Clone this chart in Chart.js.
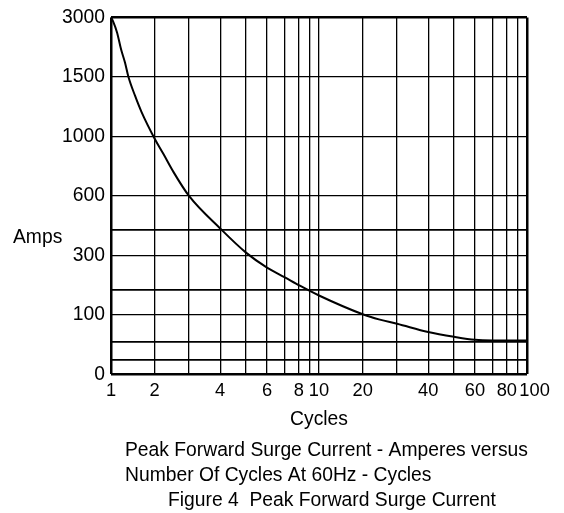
<!DOCTYPE html>
<html>
<head>
<meta charset="utf-8">
<script src="https://cdn.jsdelivr.net/npm/chart.js@4/dist/chart.umd.min.js"></script>
<style>
  html, body { margin: 0; padding: 0; background: #fff; }
  #wrap { width: 564px; height: 513px; position: relative; }
  canvas { display: block; }
</style>
</head>
<body>
<div id="wrap"><canvas id="chart" width="564" height="513"></canvas></div>
<script>
// ---- data ----
const cycles = [1, 1.05, 1.14, 1.23, 1.32, 1.4, 1.55, 1.7, 2, 2.26, 2.54, 3, 4, 5, 6, 7, 8.1, 10, 20, 25, 30, 40, 50, 60, 70, 80, 100];
const amps   = [3000, 2900, 2618, 2199, 1867, 1500, 1343, 1205, 985, 880, 764, 600, 436, 314, 259, 226, 198, 165, 102, 92, 85, 71, 63, 58, 57, 57, 57];

const xGridValues = [1, 2, 3, 4, 5, 6, 7, 8, 9, 10, 20, 30, 40, 50, 60, 70, 80, 90, 100];
const xTickLabels = [1, 2, 4, 6, 8, 10, 20, 40, 60, 80, 100];
const yGridValues = [0, 25, 54, 100, 185, 300, 430, 600, 1000, 1500, 3000];
const yTickLabels = [0, 100, 300, 600, 1000, 1500, 3000];

const xTitle = 'Cycles';
const yTitle = 'Amps';
const captionLines = ['Peak Forward Surge Current - Amperes versus', 'Number Of Cycles At 60Hz - Cycles'];
const figureCaption = 'Figure 4  Peak Forward Surge Current';

// ---- axis geometry of the printed graph paper (not data) ----
const decadeFrac = [0, 0.21, 0.375, 0.525, 0.649, 0.75, 0.836, 0.903, 0.953, 1];
const xKnotPos = xGridValues.map((v, i) => i < 10 ? decadeFrac[i] : 1 + decadeFrac[i - 9]);
const yKnotPos = yTickLabels.map((v, i) => i);

function toPos(v, knots, pos) {
  if (v <= knots[0]) return pos[0];
  for (let i = 1; i < knots.length; i++) {
    if (v <= knots[i]) {
      const t = (v - knots[i - 1]) / (knots[i] - knots[i - 1]);
      return pos[i - 1] + t * (pos[i] - pos[i - 1]);
    }
  }
  return pos[pos.length - 1];
}
function fromPos(p, knots, pos) {
  if (p <= pos[0]) return knots[0];
  for (let i = 1; i < pos.length; i++) {
    if (p <= pos[i]) {
      const t = (p - pos[i - 1]) / (pos[i] - pos[i - 1]);
      return knots[i - 1] + t * (knots[i] - knots[i - 1]);
    }
  }
  return knots[knots.length - 1];
}

// Custom scale reproducing the hand-ruled graph paper
class WarpScale extends Chart.Scale {
  determineDataLimits() {
    const k = this.options.knots;
    this.min = k[0];
    this.max = k[k.length - 1];
  }
  buildTicks() {
    return this.options.gridValues.map(v => ({ value: v }));
  }
  getLabelForValue(v) { return String(v); }
  _toDecimal(v) {
    const k = this.options.knots, p = this.options.knotPos;
    return (toPos(v, k, p) - p[0]) / (p[p.length - 1] - p[0]);
  }
  getPixelForValue(v) {
    return this.getPixelForDecimal(this._toDecimal(v));
  }
  getValueForPixel(px) {
    const k = this.options.knots, p = this.options.knotPos;
    const d = this.getDecimalForPixel(px);
    return fromPos(p[0] + d * (p[p.length - 1] - p[0]), k, p);
  }
}
WarpScale.id = 'warp';
WarpScale.defaults = {};
Chart.register(WarpScale);

Chart.defaults.font.family = '"Liberation Sans", Arial, Helvetica, sans-serif';
Chart.defaults.color = '#000';

const FONT = '"Liberation Sans", Arial, Helvetica, sans-serif';

const textPlugin = {
  id: 'figureText',
  afterDraw(chart) {
    const ctx = chart.ctx;
    ctx.save();
    ctx.fillStyle = '#000';
    ctx.font = '19.3px ' + FONT;
    ctx.textAlign = 'left';
    ctx.textBaseline = 'alphabetic';
    ctx.fillText(yTitle, 13, 243);
    ctx.fillText(captionLines[0], 125, 455.5);
    ctx.fillText(captionLines[1], 125, 481);
    ctx.fillText(figureCaption, 168, 506);
    ctx.restore();
  }
};

const points = cycles.map((c, i) => ({ x: c, y: amps[i] }));

new Chart(document.getElementById('chart'), {
  type: 'line',
  data: {
    datasets: [{
      data: points,
      borderColor: '#000',
      borderWidth: 2,
      pointRadius: 0,
      fill: false,
      cubicInterpolationMode: 'monotone'
    }]
  },
  options: {
    responsive: false,
    animation: false,
    devicePixelRatio: 1,
    events: [],
    layout: { padding: { top: 15, right: 37, bottom: 81.3, left: 0 } },
    plugins: {
      legend: { display: false },
      tooltip: { enabled: false },
      title: { display: false }
    },
    scales: {
      x: {
        type: 'warp',
        axis: 'x',
        position: 'bottom',
        knots: xGridValues,
        knotPos: xKnotPos,
        gridValues: xGridValues,
        border: { display: false },
        grid: {
          color: '#000',
          drawTicks: false,
          lineWidth: (c) => {
            const v = c.tick ? c.tick.value : null;
            return (v === xGridValues[0] || v === xGridValues[xGridValues.length - 1]) ? 2.5 : 1.3;
          }
        },
        ticks: {
          autoSkip: false,
          maxRotation: 0,
          minRotation: 0,
          padding: 6,
          color: '#000',
          font: { size: 18.3 },
          callback: (v) => {
            if (!xTickLabels.includes(v)) return '';
            return v === 100 ? '   ' + v : String(v);
          }
        },
        title: {
          display: true,
          text: xTitle,
          color: '#000',
          font: { size: 19.3 },
          padding: { top: 7, bottom: 0 }
        },
        afterFit: (s) => { s.height = 57.4; }
      },
      y: {
        type: 'warp',
        axis: 'y',
        position: 'left',
        knots: yTickLabels,
        knotPos: yKnotPos,
        gridValues: yGridValues,
        border: { display: false },
        grid: {
          color: '#000',
          drawTicks: false,
          lineWidth: (c) => {
            const v = c.tick ? c.tick.value : null;
            if (v === yGridValues[0] || v === yGridValues[yGridValues.length - 1]) return 2.5;
            return yTickLabels.includes(v) ? 1.3 : 1.8;
          }
        },
        ticks: {
          autoSkip: false,
          padding: 6,
          color: '#000',
          font: { size: 19.3 },
          callback: (v) => yTickLabels.includes(v) ? String(v) : ''
        },
        afterFit: (s) => { s.width = 111; }
      }
    }
  },
  plugins: [textPlugin]
});
</script>
</body>
</html>
